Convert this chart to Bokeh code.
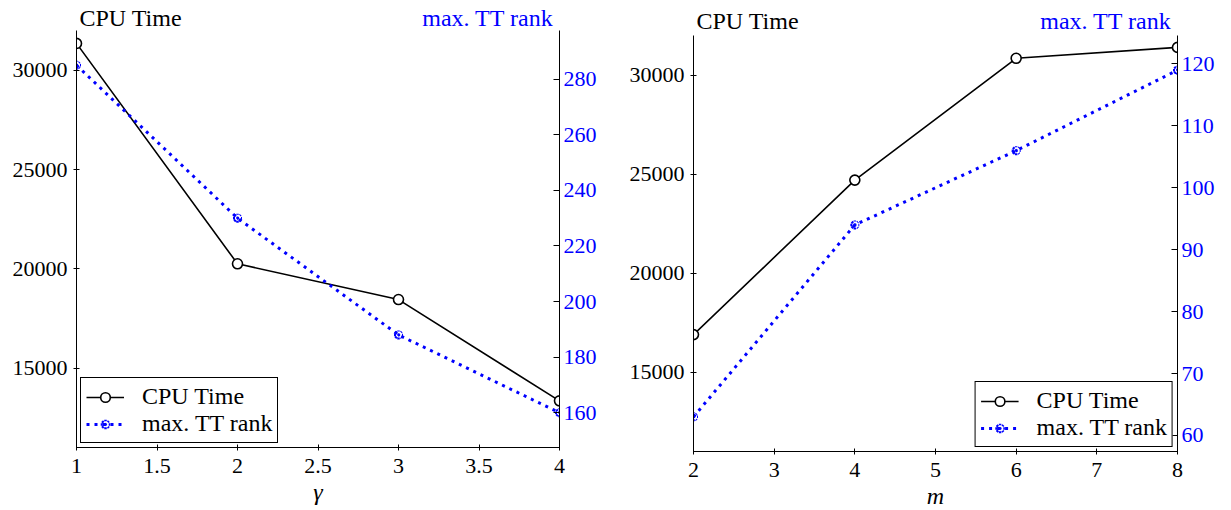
from bokeh.plotting import figure
from bokeh.models import Range1d, LinearAxis, Legend, LegendItem, Label, FixedTicker
from bokeh.layouts import row, column
from bokeh.embed import file_html
from bokeh.resources import INLINE

# ---- data ----
gamma = [1, 2, 3, 4]
cpu_gamma = [31350, 20250, 18450, 13350]
rank_gamma = [285, 230, 188, 160]

m_vals = [2, 4, 6, 8]
cpu_m = [16900, 24700, 30850, 31400]
rank_m = [63, 94, 106, 119]

gamma_ticks = [1, 1.5, 2, 2.5, 3, 3.5, 4]
m_ticks = [2, 3, 4, 5, 6, 7, 8]
cpu_ticks = [15000, 20000, 25000, 30000]
rank_gamma_ticks = [160, 180, 200, 220, 240, 260, 280]
rank_m_ticks = [60, 70, 80, 90, 100, 110, 120]

FONT = "'Liberation Serif', serif"
BLUE = "#0000ff"
FS = "22px"
FS_TXT = "24px"


def header(xr, bl, br, fw, h, yoff):
    hp = figure(frame_width=fw, frame_height=h, output_backend="svg", toolbar_location=None,
                x_range=Range1d(*xr), y_range=Range1d(0, 1),
                x_axis_type=None, y_axis_type=None,
                min_border_left=bl, min_border_right=br, min_border_top=0, min_border_bottom=0)
    hp.outline_line_color = None
    hp.xgrid.visible = False
    hp.ygrid.visible = False
    hp.add_layout(Label(x=xr[0], y=0.5, text="CPU Time", x_offset=3, y_offset=yoff,
                        text_baseline="middle", text_align="left",
                        text_font=FONT, text_font_size=FS_TXT, text_color="black"))
    hp.add_layout(Label(x=xr[1], y=0.5, text="max. TT rank", x_offset=-6, y_offset=yoff,
                        text_baseline="middle", text_align="right",
                        text_font=FONT, text_font_size=FS_TXT, text_color=BLUE))
    return hp


def panel(x, cpu, rank, xlabel, xticks, rticks, xr, yr, rr, loc, fw, fh, bl, br, bb):
    p = figure(frame_width=fw, frame_height=fh, output_backend="svg", toolbar_location=None,
               x_range=Range1d(*xr), y_range=Range1d(*yr),
               min_border_left=bl, min_border_right=br, min_border_top=0, min_border_bottom=bb)
    p.extra_y_ranges = {"rank": Range1d(*rr)}
    p.xgrid.visible = False
    p.ygrid.visible = False
    p.outline_line_color = None

    rax = LinearAxis(y_range_name="rank", ticker=FixedTicker(ticks=rticks))
    p.add_layout(rax, "right")

    p.xaxis.ticker = FixedTicker(ticks=xticks)
    p.yaxis[0].ticker = FixedTicker(ticks=cpu_ticks)
    p.xaxis.axis_label = xlabel
    p.xaxis.axis_label_text_font_style = "italic"
    p.xaxis.axis_label_text_font = FONT
    p.xaxis.axis_label_text_font_size = FS_TXT
    p.xaxis.axis_label_text_color = "black"
    p.xaxis.axis_label_standoff = 3

    for ax in [p.xaxis[0], p.yaxis[0], rax]:
        ax.major_label_text_font = FONT
        ax.major_label_text_font_size = FS
        ax.major_label_text_color = "black"
        ax.axis_line_color = "black"
        ax.axis_line_width = 1
        ax.major_tick_line_color = "black"
        ax.minor_tick_line_color = None
        ax.major_tick_in = 3
        ax.major_tick_out = 3
        ax.major_label_standoff = 6
    p.xaxis.major_label_standoff = 8
    rax.major_label_text_color = BLUE
    rax.major_tick_in = 6
    rax.major_tick_out = 0
    rax.major_label_standoff = 4

    l1 = p.line(x, cpu, line_color="black", line_width=1.6)
    s1 = p.scatter(x, cpu, marker="circle", size=10, fill_color="white",
                   line_color="black", line_width=1.6)
    l2 = p.line(x, rank, y_range_name="rank", line_color=BLUE, line_width=3,
                line_dash="3 5")
    s2 = p.scatter(x, rank, y_range_name="rank", marker="asterisk", size=9,
                   line_color=BLUE, line_width=2.5, line_dash="2 2")

    leg = Legend(items=[LegendItem(label="CPU Time", renderers=[l1, s1]),
                        LegendItem(label="max. TT rank", renderers=[l2, s2])],
                 location=loc)
    leg.label_text_font = FONT
    leg.label_text_font_size = FS_TXT
    leg.label_text_color = "black"
    leg.border_line_color = "black"
    leg.border_line_width = 1
    leg.border_line_alpha = 1
    leg.background_fill_alpha = 1
    leg.glyph_width = 38
    leg.glyph_height = 24
    leg.label_height = 24
    leg.label_standoff = 18
    leg.padding = 5
    leg.spacing = 0
    leg.margin = 4
    p.add_layout(leg)
    return p


h1 = header((1, 4), 76, 56, 483, 30, -2)
p1 = panel(gamma, cpu_gamma, rank_gamma, "γ", gamma_ticks, rank_gamma_ticks,
           (1, 4), (11000, 32000), (147.5, 297.5), "bottom_left",
           483, 417, 76, 56, 62)
h2 = header((2, 8), 78, 54, 484, 35, -3)
p2 = panel(m_vals, cpu_m, rank_m, "m", m_ticks, rank_m_ticks,
           (2, 8), (11000, 32000), (57.4, 124.6), "bottom_right",
           484, 416, 78, 54, 58)

layout = row(column(h1, p1), column(h2, p2))
open("out.html", "w").write(file_html(layout, INLINE))
